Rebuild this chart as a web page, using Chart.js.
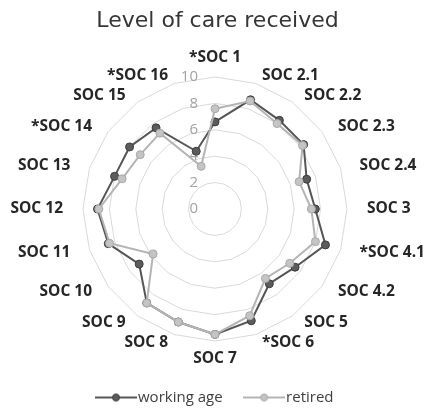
<!DOCTYPE html>
<html>
<head>
<meta charset="utf-8">
<title>Level of care received</title>
<script src="https://cdn.jsdelivr.net/npm/chart.js@4.4.1/dist/chart.umd.min.js"></script>
<style>
  html, body { margin: 0; padding: 0; background: #fff; }
</style>
</head>
<body>
<canvas id="care-chart" width="425" height="409"></canvas>
<script>
// **Data

let socLabels = ['*SOC 1', 'SOC 2.1', 'SOC 2.2', 'SOC 2.3', 'SOC 2.4', 'SOC 3', '*SOC 4.1', 'SOC 4.2', 'SOC 5', '*SOC 6',
  'SOC 7', 'SOC 8', 'SOC 9', 'SOC 10', 'SOC 11', 'SOC 12', 'SOC 13', '*SOC 14', 'SOC 15', '*SOC 16'];
let workingAge = [6.6, 8.7, 8.3, 8.3, 7.3, 7.6, 8.8, 7.5, 7.0, 8.9, 9.5, 9.0, 8.8, 7.1, 8.5, 8.9, 8.0, 8.0, 7.6, 4.6];
let retired = [7.6, 8.6, 8.0, 8.2, 6.7, 7.3, 8.0, 7.0, 6.5, 8.5, 9.5, 9.0, 8.8, 5.8, 8.4, 8.8, 7.4, 7.0, 7.1, 3.4];
let tickValues = [0, 2, 4, 6, 8, 10];

// radar geometry in the picture
let centerX = 215;
let centerY = 209;
let outerRadius = 132;
let labelGap = 8;      // radial gap to the category labels
let labelSideGap = 12; // extra sideways push of the side labels

//** Helper functions **/

// little line + circle icon for the legend
function legendIcon(lineColor, fillColor, edgeColor){
  let icon = document.createElement('canvas');
  icon.width = 42;
  icon.height = 10;
  let c = icon.getContext('2d');
  c.strokeStyle = lineColor;
  c.lineWidth = 2;
  c.beginPath();
  c.moveTo(0, 5);
  c.lineTo(42, 5);
  c.stroke();
  c.beginPath();
  c.arc(21, 5, 3.5, 0, Math.PI * 2);
  c.fillStyle = fillColor;
  c.fill();
  c.strokeStyle = edgeColor;
  c.lineWidth = 1;
  c.stroke();
  return icon;
}

// put the scale where the picture has it, and centre the labels on their spoke like Excel does
function placeScale(scale){
  scale.xCenter = centerX;
  scale.yCenter = centerY;
  scale.drawingArea = outerRadius;
  let n = socLabels.length;
  (scale._pointLabelItems || []).forEach((item, i) => {
    let w = item.right - item.left;
    let h = item.bottom - item.top;
    let deg = Math.round(i * 360 / n);
    let p = scale.getPointPosition(i, outerRadius + labelGap);
    let x = p.x;
    let y = p.y;
    if (deg === 0){
      p = scale.getPointPosition(i, outerRadius + labelGap + 2);
      y = p.y - h;
    } else if (deg === 180){
      y = p.y;
    } else {
      y = p.y - h / 2;
      x += (deg < 180 ? 1 : -1) * labelSideGap * Math.abs(Math.sin(i * 2 * Math.PI / n));
    }
    item.x = x;
    item.y = y;
    item.top = y;
    item.bottom = y + h;
    if (item.textAlign === 'left'){
      item.left = x; item.right = x + w;
    } else if (item.textAlign === 'right'){
      item.left = x - w; item.right = x;
    } else {
      item.left = x - w / 2; item.right = x + w / 2;
    }
  });
}

// tick numbers sit left of the vertical axis, under the lines
const tickLabelPlugin = {
  id: 'tickLabels',
  beforeDatasetsDraw(chart){
    let scale = chart.scales.r;
    let ctx = chart.ctx;
    ctx.save();
    ctx.font = '15px "Open Sans"';
    ctx.fillStyle = '#a3a3a3';
    ctx.textAlign = 'right';
    ctx.textBaseline = 'middle';
    tickValues.forEach(v => {
      ctx.fillText(String(v), scale.xCenter - 17, scale.yCenter - scale.getDistanceFromCenterForValue(v));
    });
    ctx.restore();
  }
};

//Executable Code

let workingIcon = legendIcon('#555555', '#5c5c5c', '#3c3c3c');
let retiredIcon = legendIcon('#b4b4b4', '#c4c4c4', '#a8a8a8');

new Chart(document.getElementById('care-chart'), {
  type: 'radar',
  data: {
    labels: socLabels,
    datasets: [
      {
        label: 'working age',
        data: workingAge,
        fill: false,
        borderColor: '#555555',
        borderWidth: 2,
        pointRadius: 4,
        pointBackgroundColor: '#5c5c5c',
        pointBorderColor: '#3c3c3c',
        pointBorderWidth: 1,
        order: 1
      },
      {
        label: 'retired',
        data: retired,
        fill: false,
        borderColor: '#b4b4b4',
        borderWidth: 2,
        pointRadius: 4,
        pointBackgroundColor: '#c4c4c4',
        pointBorderColor: '#a8a8a8',
        pointBorderWidth: 1,
        order: 0
      }
    ]
  },
  options: {
    responsive: false,
    animation: false,
    layout: { padding: { left: 10, right: 0, top: 0, bottom: -6 } },
    plugins: {
      title: {
        display: true,
        text: 'Level of care received',
        color: '#363636',
        font: { family: 'DejaVu Sans', size: 22, weight: 'normal' },
        padding: { top: 8, bottom: 6 }
      },
      legend: {
        position: 'bottom',
        labels: {
          usePointStyle: true,
          pointStyleWidth: 29,
          color: '#404040',
          font: { family: 'Open Sans', size: 15 },
          padding: 27,
          generateLabels: function(chart){
            return chart.data.datasets.map((ds, i) => ({
              text: ds.label,
              datasetIndex: i,
              pointStyle: i === 0 ? workingIcon : retiredIcon,
              fontColor: '#404040',
              fillStyle: 'transparent',
              strokeStyle: 'transparent',
              lineWidth: 0,
              hidden: false
            }));
          }
        }
      },
      tooltip: { enabled: false }
    },
    scales: {
      r: {
        min: 0,
        max: 10,
        ticks: { stepSize: 2, display: false },
        grid: { color: '#d9d9d9', lineWidth: 1, circular: false },
        angleLines: { display: false },
        pointLabels: {
          color: '#262626',
          font: { family: 'Open Sans', size: 15.5, weight: 'bold' },
          padding: 8
        },
        afterFit: placeScale
      }
    }
  },
  plugins: [tickLabelPlugin]
});
</script>
</body>
</html>
